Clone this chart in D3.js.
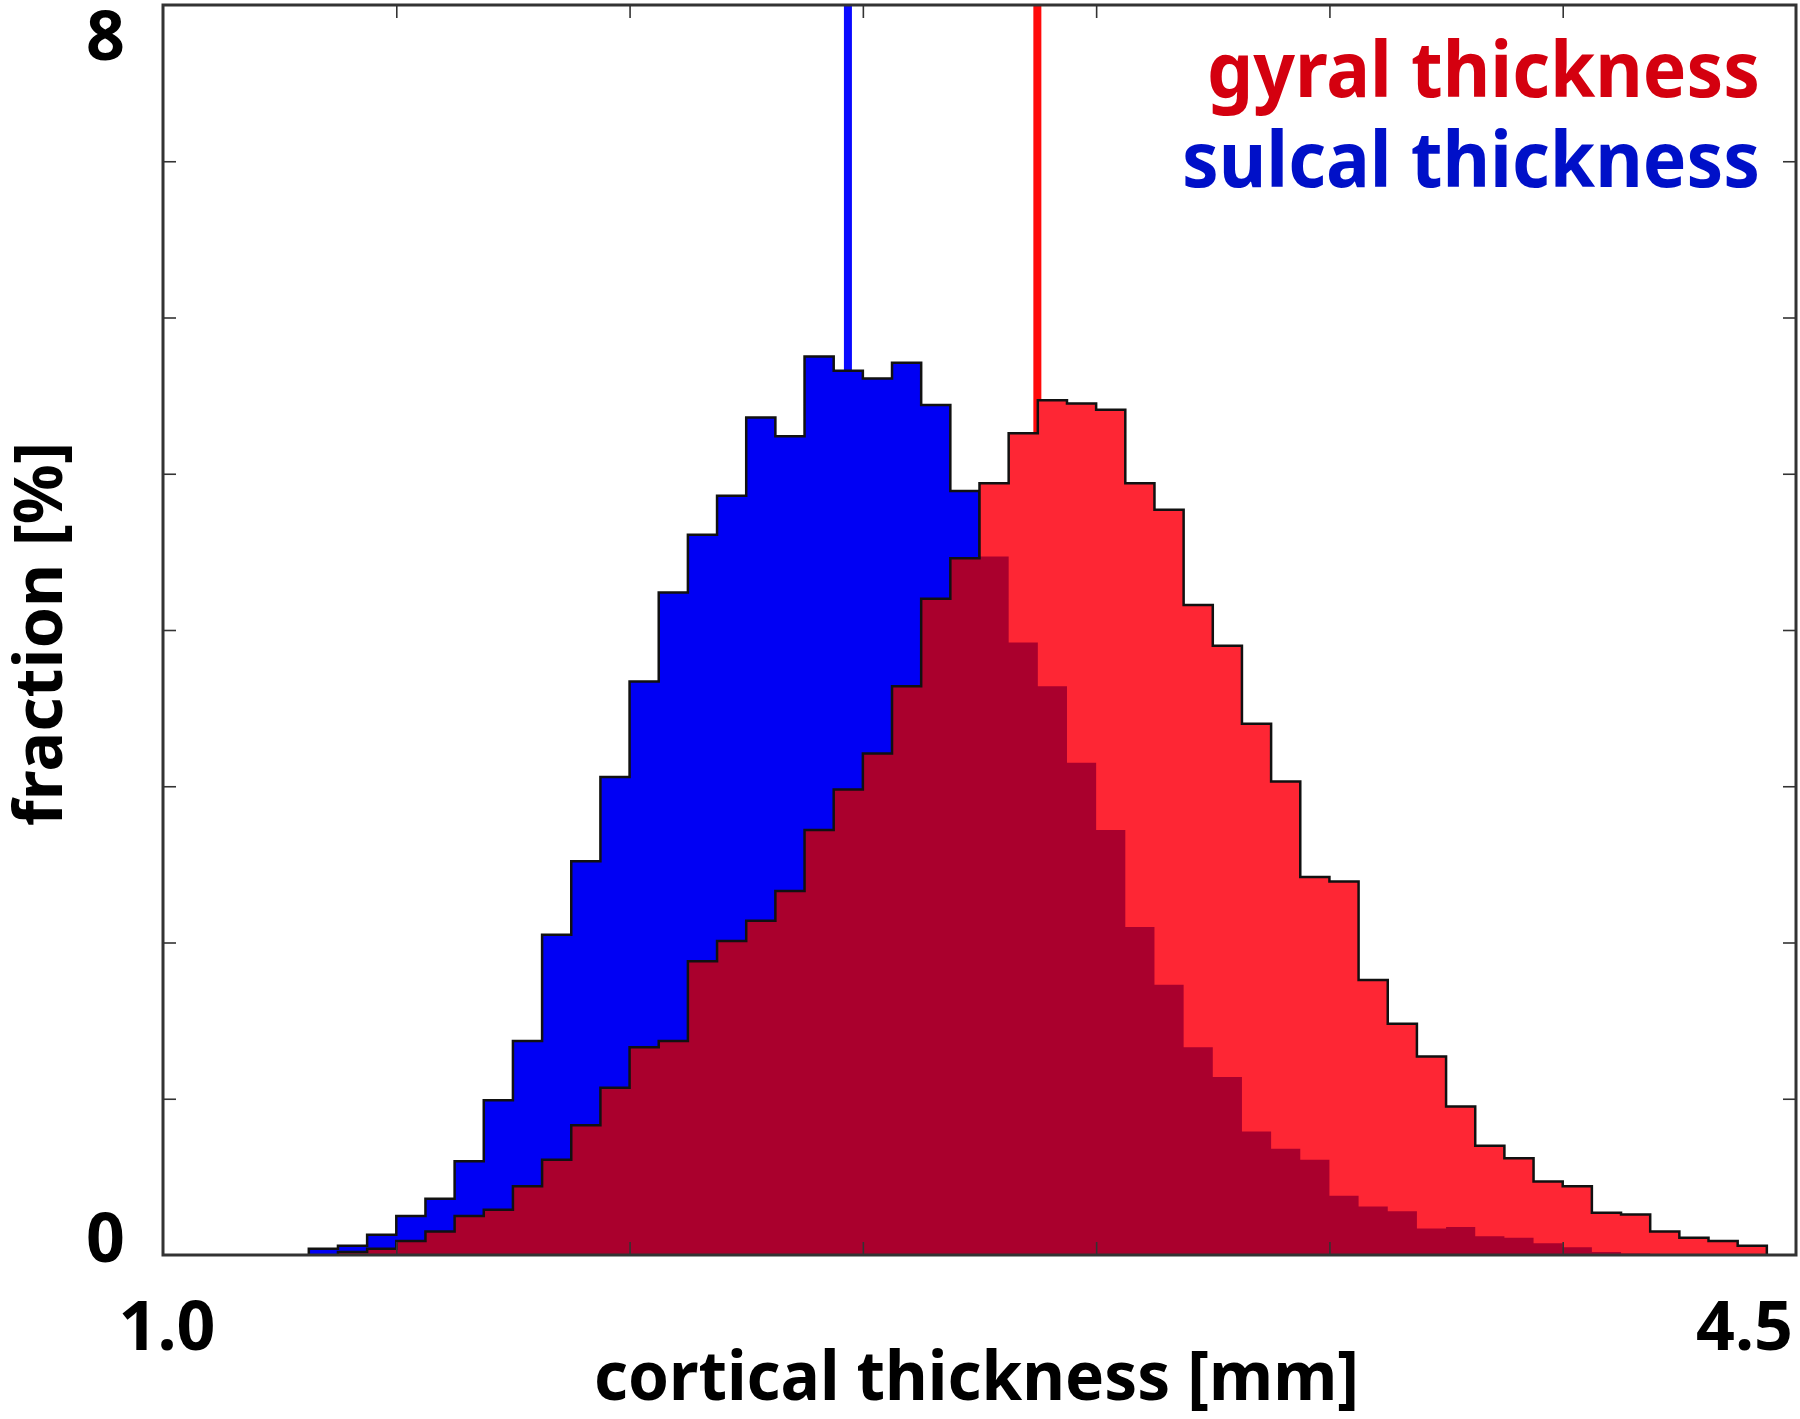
<!DOCTYPE html>
<html>
<head>
    <meta http-equiv="Content-Type" content="text/html;charset=utf8" />
    <title>Cortical thickness histogram</title>
    <script src="https://d3js.org/d3.v7.min.js"></script>
    <style>
        body { margin: 0; background: #fff; }
        text { font-family: "Noto Sans", sans-serif; font-weight: bold; }
    </style>
</head>
<body>

<div id="chart"></div>

<script>
    // histogram grid: 56 bins of 0.0625 mm between 1.0 and 4.5
    var binEdges = d3.range(57).map(function(i) { return 1.0 + i * 0.0625; });

    // bin heights in %
    var gyral = [0, 0, 0, 0, 0, 0, 0.02, 0.04, 0.09, 0.15, 0.25, 0.29, 0.44, 0.61, 0.83, 1.07,
        1.33, 1.37, 1.88, 2.01, 2.14, 2.33, 2.72, 2.98, 3.21, 3.64, 4.20, 4.46, 4.94, 5.26, 5.47,
        5.45, 5.41, 4.94, 4.77, 4.16, 3.90, 3.40, 3.03, 2.42, 2.39, 1.76, 1.48, 1.27, 0.95, 0.70,
        0.62, 0.47, 0.44, 0.27, 0.26, 0.15, 0.11, 0.09, 0.06, 0];
    var sulcal = [0, 0, 0, 0, 0, 0.04, 0.06, 0.13, 0.25, 0.36, 0.60, 0.99, 1.37, 2.05, 2.52, 3.06,
        3.67, 4.24, 4.61, 4.86, 5.36, 5.24, 5.75, 5.66, 5.61, 5.71, 5.44, 4.89, 4.47, 3.92, 3.64,
        3.15, 2.72, 2.10, 1.73, 1.33, 1.14, 0.79, 0.68, 0.61, 0.38, 0.31, 0.28, 0.17, 0.18, 0.12,
        0.11, 0.075, 0.05, 0.02, 0.01, 0, 0, 0, 0, 0];

    // mean markers
    var sulcalMean = 2.468, gyralMean = 2.874;

    var xTicks = [1.5, 2.0, 2.5, 3.0, 3.5, 4.0];
    var yTicks = [1, 2, 3, 4, 5, 6, 7];
    var xLabels = ["1.0", "4.5"];
    var yLabels = ["8", "0"];
    var legend = ["gyral thickness", "sulcal thickness"];

    (function() {
        var W = 1800, H = 1419;
        var pl = 163, pr = 1796, pt = 5, pb = 1255;

        var svg = d3.select("#chart").append("svg").attr("width", W).attr("height", H);

        var x = d3.scaleLinear().domain([1.0, 4.5]).range([pl, pr]);
        var y = d3.scaleLinear().domain([0, 8]).range([pb, pt]);

        function stepPoints(vals) {
            var first = vals.findIndex(function(v) { return v > 0; });
            var last = vals.length - 1 - vals.slice().reverse().findIndex(function(v) { return v > 0; });
            var pts = [{x: binEdges[first], v: 0}];
            for (var k = first; k <= last; k++) pts.push({x: binEdges[k], v: vals[k]});
            pts.push({x: binEdges[last + 1], v: 0});
            return pts;
        }

        var area = d3.area().curve(d3.curveStepAfter)
            .x(function(d) { return x(d.x); })
            .y0(y(0))
            .y1(function(d) { return y(d.v); });
        var line = d3.line().curve(d3.curveStepAfter)
            .x(function(d) { return x(d.x); })
            .y(function(d) { return y(d.v); });

        var overlap = sulcal.map(function(v, i) { return Math.min(v, gyral[i]); });

        // mean lines sit underneath the histograms
        svg.append("line")
            .attr("x1", x(sulcalMean)).attr("x2", x(sulcalMean))
            .attr("y1", y(8)).attr("y2", y(0))
            .attr("stroke", "#0a0aff").attr("stroke-width", 8);
        svg.append("line")
            .attr("x1", x(gyralMean)).attr("x2", x(gyralMean))
            .attr("y1", y(8)).attr("y2", y(0))
            .attr("stroke", "#ff0a0a").attr("stroke-width", 8);

        svg.append("path").attr("d", area(stepPoints(sulcal))).attr("fill", "#0000f4");
        svg.append("path").attr("d", line(stepPoints(sulcal)))
            .attr("fill", "none").attr("stroke", "#111").attr("stroke-width", 2.5);

        svg.append("path").attr("d", area(stepPoints(gyral))).attr("fill", "#fe2634");
        svg.append("path").attr("d", area(stepPoints(overlap))).attr("fill", "#aa002d");
        svg.append("path").attr("d", line(stepPoints(gyral)))
            .attr("fill", "none").attr("stroke", "#111").attr("stroke-width", 2.5);

        // inward ticks on all four sides
        function ticks(g) {
            g.select(".domain").remove();
            g.selectAll(".tick line").attr("stroke", "#333").attr("stroke-width", 1.6);
        }
        svg.append("g").attr("transform", "translate(0," + pb + ")")
            .call(d3.axisBottom(x).tickValues(xTicks).tickSize(-13).tickFormat("")).call(ticks);
        svg.append("g").attr("transform", "translate(0," + pt + ")")
            .call(d3.axisTop(x).tickValues(xTicks).tickSize(-13).tickFormat("")).call(ticks);
        svg.append("g").attr("transform", "translate(" + pl + ",0)")
            .call(d3.axisLeft(y).tickValues(yTicks).tickSize(-13).tickFormat("")).call(ticks);
        svg.append("g").attr("transform", "translate(" + pr + ",0)")
            .call(d3.axisRight(y).tickValues(yTicks).tickSize(-13).tickFormat("")).call(ticks);

        svg.append("rect")
            .attr("x", pl).attr("y", pt)
            .attr("width", pr - pl).attr("height", pb - pt)
            .attr("fill", "none").attr("stroke", "#333").attr("stroke-width", 3);

        // tick labels (only the ends are labelled)
        svg.append("text").attr("x", 125).attr("y", 60).attr("text-anchor", "end")
            .attr("font-size", 68).text(yLabels[0]);
        svg.append("text").attr("x", 125).attr("y", 1262).attr("text-anchor", "end")
            .attr("font-size", 68).text(yLabels[1]);
        svg.append("text").attr("x", 167).attr("y", 1350).attr("text-anchor", "middle")
            .attr("font-size", 68).text(xLabels[0]);
        svg.append("text").attr("x", 1793).attr("y", 1350).attr("text-anchor", "end")
            .attr("font-size", 68).text(xLabels[1]);

        // axis titles
        svg.append("text").attr("x", (pl + pr) / 2 - 3).attr("y", 1400)
            .attr("text-anchor", "middle").attr("font-size", 68)
            .attr("textLength", 765).attr("lengthAdjust", "spacingAndGlyphs")
            .text("cortical thickness [mm]");
        svg.append("text").attr("transform", "translate(62,634) rotate(-90)")
            .attr("text-anchor", "middle").attr("font-size", 66)
            .attr("textLength", 384).attr("lengthAdjust", "spacingAndGlyphs")
            .text("fraction [%]");

        // legend
        svg.append("text").attr("x", 1760).attr("y", 97).attr("text-anchor", "end")
            .attr("font-size", 77).attr("fill", "#d4000f")
            .attr("textLength", 553).attr("lengthAdjust", "spacingAndGlyphs")
            .text(legend[0]);
        svg.append("text").attr("x", 1760).attr("y", 187).attr("text-anchor", "end")
            .attr("font-size", 77).attr("fill", "#0010c8")
            .attr("textLength", 578).attr("lengthAdjust", "spacingAndGlyphs")
            .text(legend[1]);
    })();
</script>

</body>
</html>
